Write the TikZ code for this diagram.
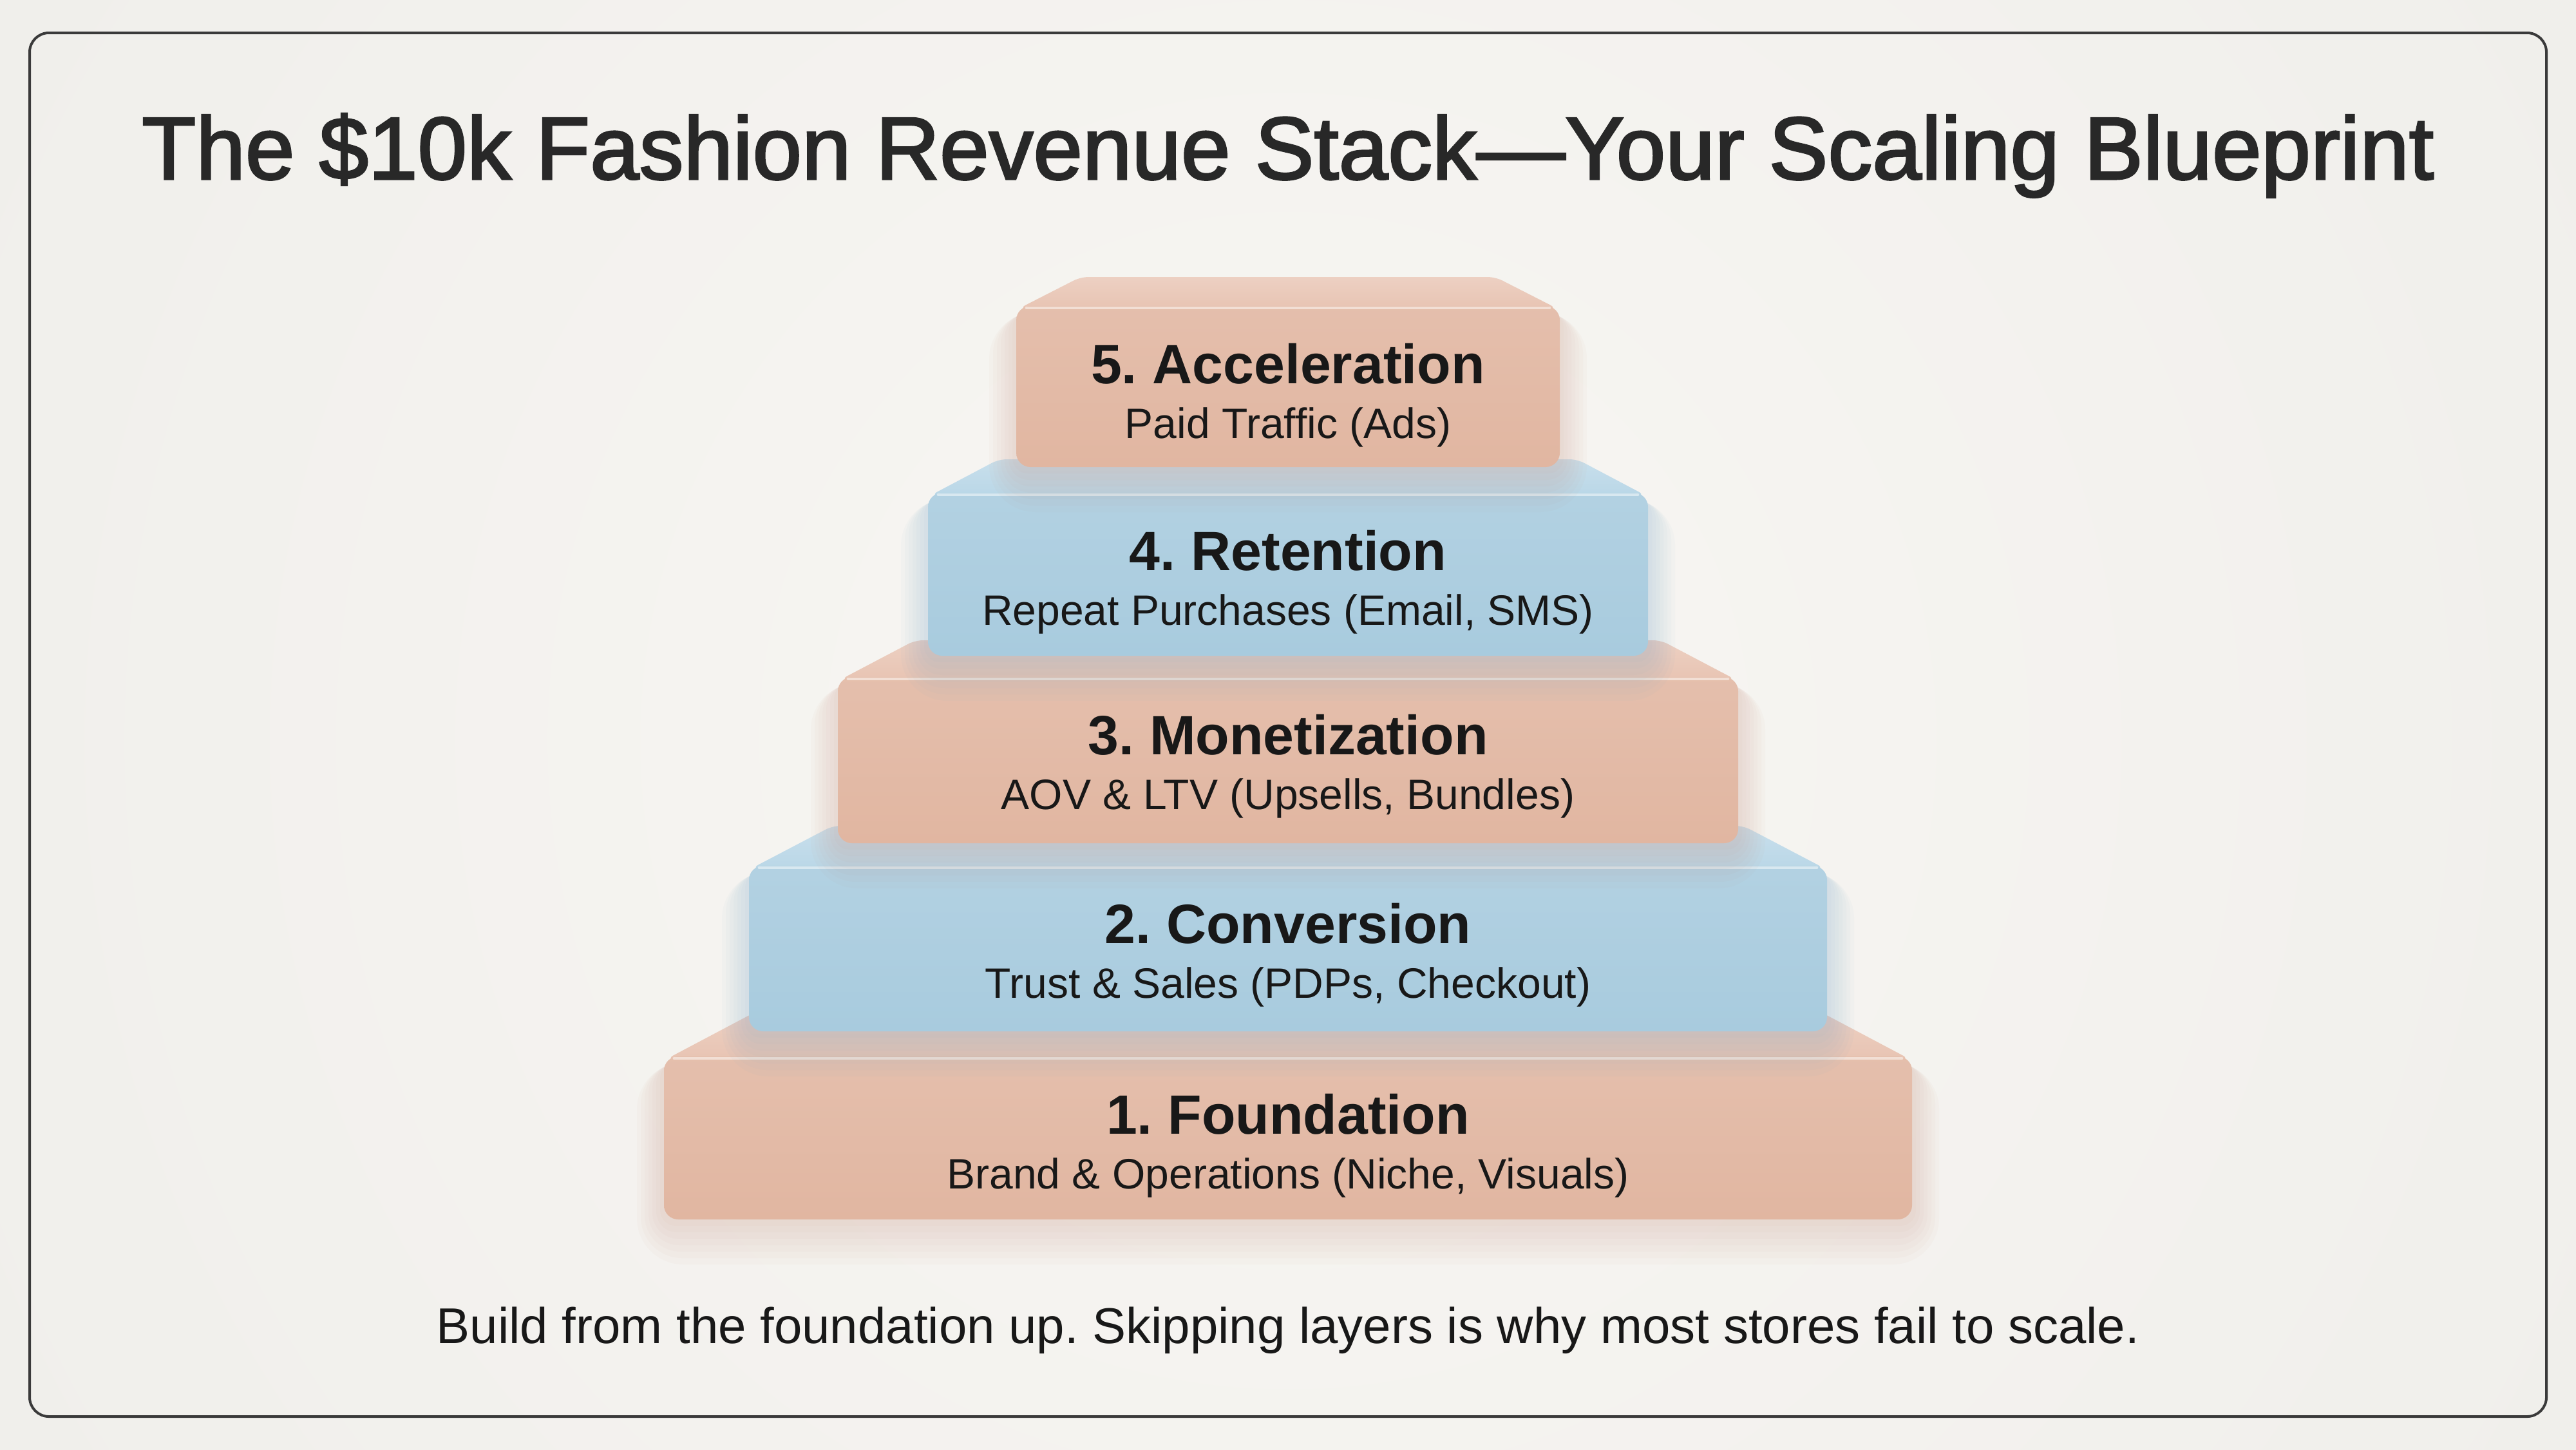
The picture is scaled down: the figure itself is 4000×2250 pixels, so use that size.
\documentclass[tikz,border=0pt]{standalone}
\usepackage{fontspec}
\setmainfont{Liberation Sans}
\newfontfamily\titlefont[FakeBold=2.2]{Liberation Sans}
\frenchspacing
\definecolor{bg}{RGB}{240,239,235}
\definecolor{halo}{RGB}{248,246,243}
\definecolor{frameline}{RGB}{58,58,58}
\definecolor{ink}{RGB}{24,24,24}
\definecolor{titleink}{RGB}{40,40,40}
\definecolor{salF}{RGB}{225,182,161}
\definecolor{salT}{RGB}{232,196,179}
\definecolor{salS}{RGB}{205,140,118}
\definecolor{bluF}{RGB}{168,203,222}
\definecolor{bluT}{RGB}{186,215,231}
\definecolor{bluS}{RGB}{110,165,205}
\newcommand\pyrblock[9]{%
  \foreach \k in {1,...,7}{%
    \fill[#9, opacity=0.035, rounded corners={4pt+\k*2pt}]
      ({#1-#2-\k*6},{#3+10}) rectangle ({#1+#2+\k*6},{#4+\k*10});
  }%
  \shade[top color=#8!80!white, bottom color=#8, rounded corners=3pt]
    ({#1-#2+4},{#3+4}) -- ({#1-#2+#6},{#3-#5}) -- ({#1+#2-#6},{#3-#5}) -- ({#1+#2-4},{#3+4}) -- cycle;
  \shade[top color=#7!88!white, bottom color=#7, rounded corners=5.5pt]
    ({#1-#2},#3) rectangle ({#1+#2},#4);
  \draw[white, opacity=0.5, line width=1.2pt, line cap=round]
    ({#1-#2+16},{#3+3}) -- ({#1+#2-16},{#3+3});
}
\begin{document}
\begin{tikzpicture}[x=0.25pt,y=-0.25pt,
  lbl/.style={font=\fontsize{21.5}{24}\selectfont\bfseries, text=ink, inner sep=0pt, anchor=base},
  sublbl/.style={font=\fontsize{16.5}{19}\selectfont, text=ink, inner sep=0pt, anchor=base}]
\useasboundingbox (0,0) rectangle (4000,2250);
\fill[bg] (0,0) rectangle (4000,2250);
\shade[inner color=halo, outer color=bg] (2000,1150) circle (2300);
% frame
\draw[frameline, line width=1pt, rounded corners=7.5pt] (46,51) rectangle (3954,2199);
% title
\node[anchor=base, inner sep=0pt, text=titleink, font=\titlefont\fontsize{34.4}{40}\selectfont] (title) at (2000,278)
  {The \$10k Fashion Revenue Stack—Your Scaling Blueprint};
% blocks, bottom to top
\pyrblock{2000}{969}{1640}{1893}{68}{140}{salF}{salT}{salS}
\pyrblock{2000}{837}{1344}{1601}{62}{130}{bluF}{bluT}{bluS}
\pyrblock{2000}{699}{1051}{1309}{57}{120}{salF}{salT}{salS}
\pyrblock{2000}{559}{765}{1018}{52}{110}{bluF}{bluT}{bluS}
\pyrblock{2000}{422}{475}{725}{45}{100}{salF}{salT}{salS}
% labels
\node[lbl] (t5) at (2000,595) {5. Acceleration};
\node[sublbl] (s5) at (2000,680) {Paid Traffic (Ads)};
\node[lbl] (t4) at (2000,885) {4. Retention};
\node[sublbl] (s4) at (2000,970) {Repeat Purchases (Email, SMS)};
\node[lbl] (t3) at (2000,1171) {3. Monetization};
\node[sublbl] (s3) at (2000,1256) {AOV \& LTV (Upsells, Bundles)};
\node[lbl] (t2) at (2000,1464) {2. Conversion};
\node[sublbl] (s2) at (2000,1549) {Trust \& Sales (PDPs, Checkout)};
\node[lbl] (t1) at (2000,1760) {1. Foundation};
\node[sublbl] (s1) at (2000,1845) {Brand \& Operations (Niche, Visuals)};
% footer
\node[anchor=base, inner sep=0pt, text=ink, font=\fontsize{19.5}{22}\selectfont] (foot) at (2000,2085)
  {Build from the foundation up. Skipping layers is why most stores fail to scale.};
\end{tikzpicture}
\end{document}
